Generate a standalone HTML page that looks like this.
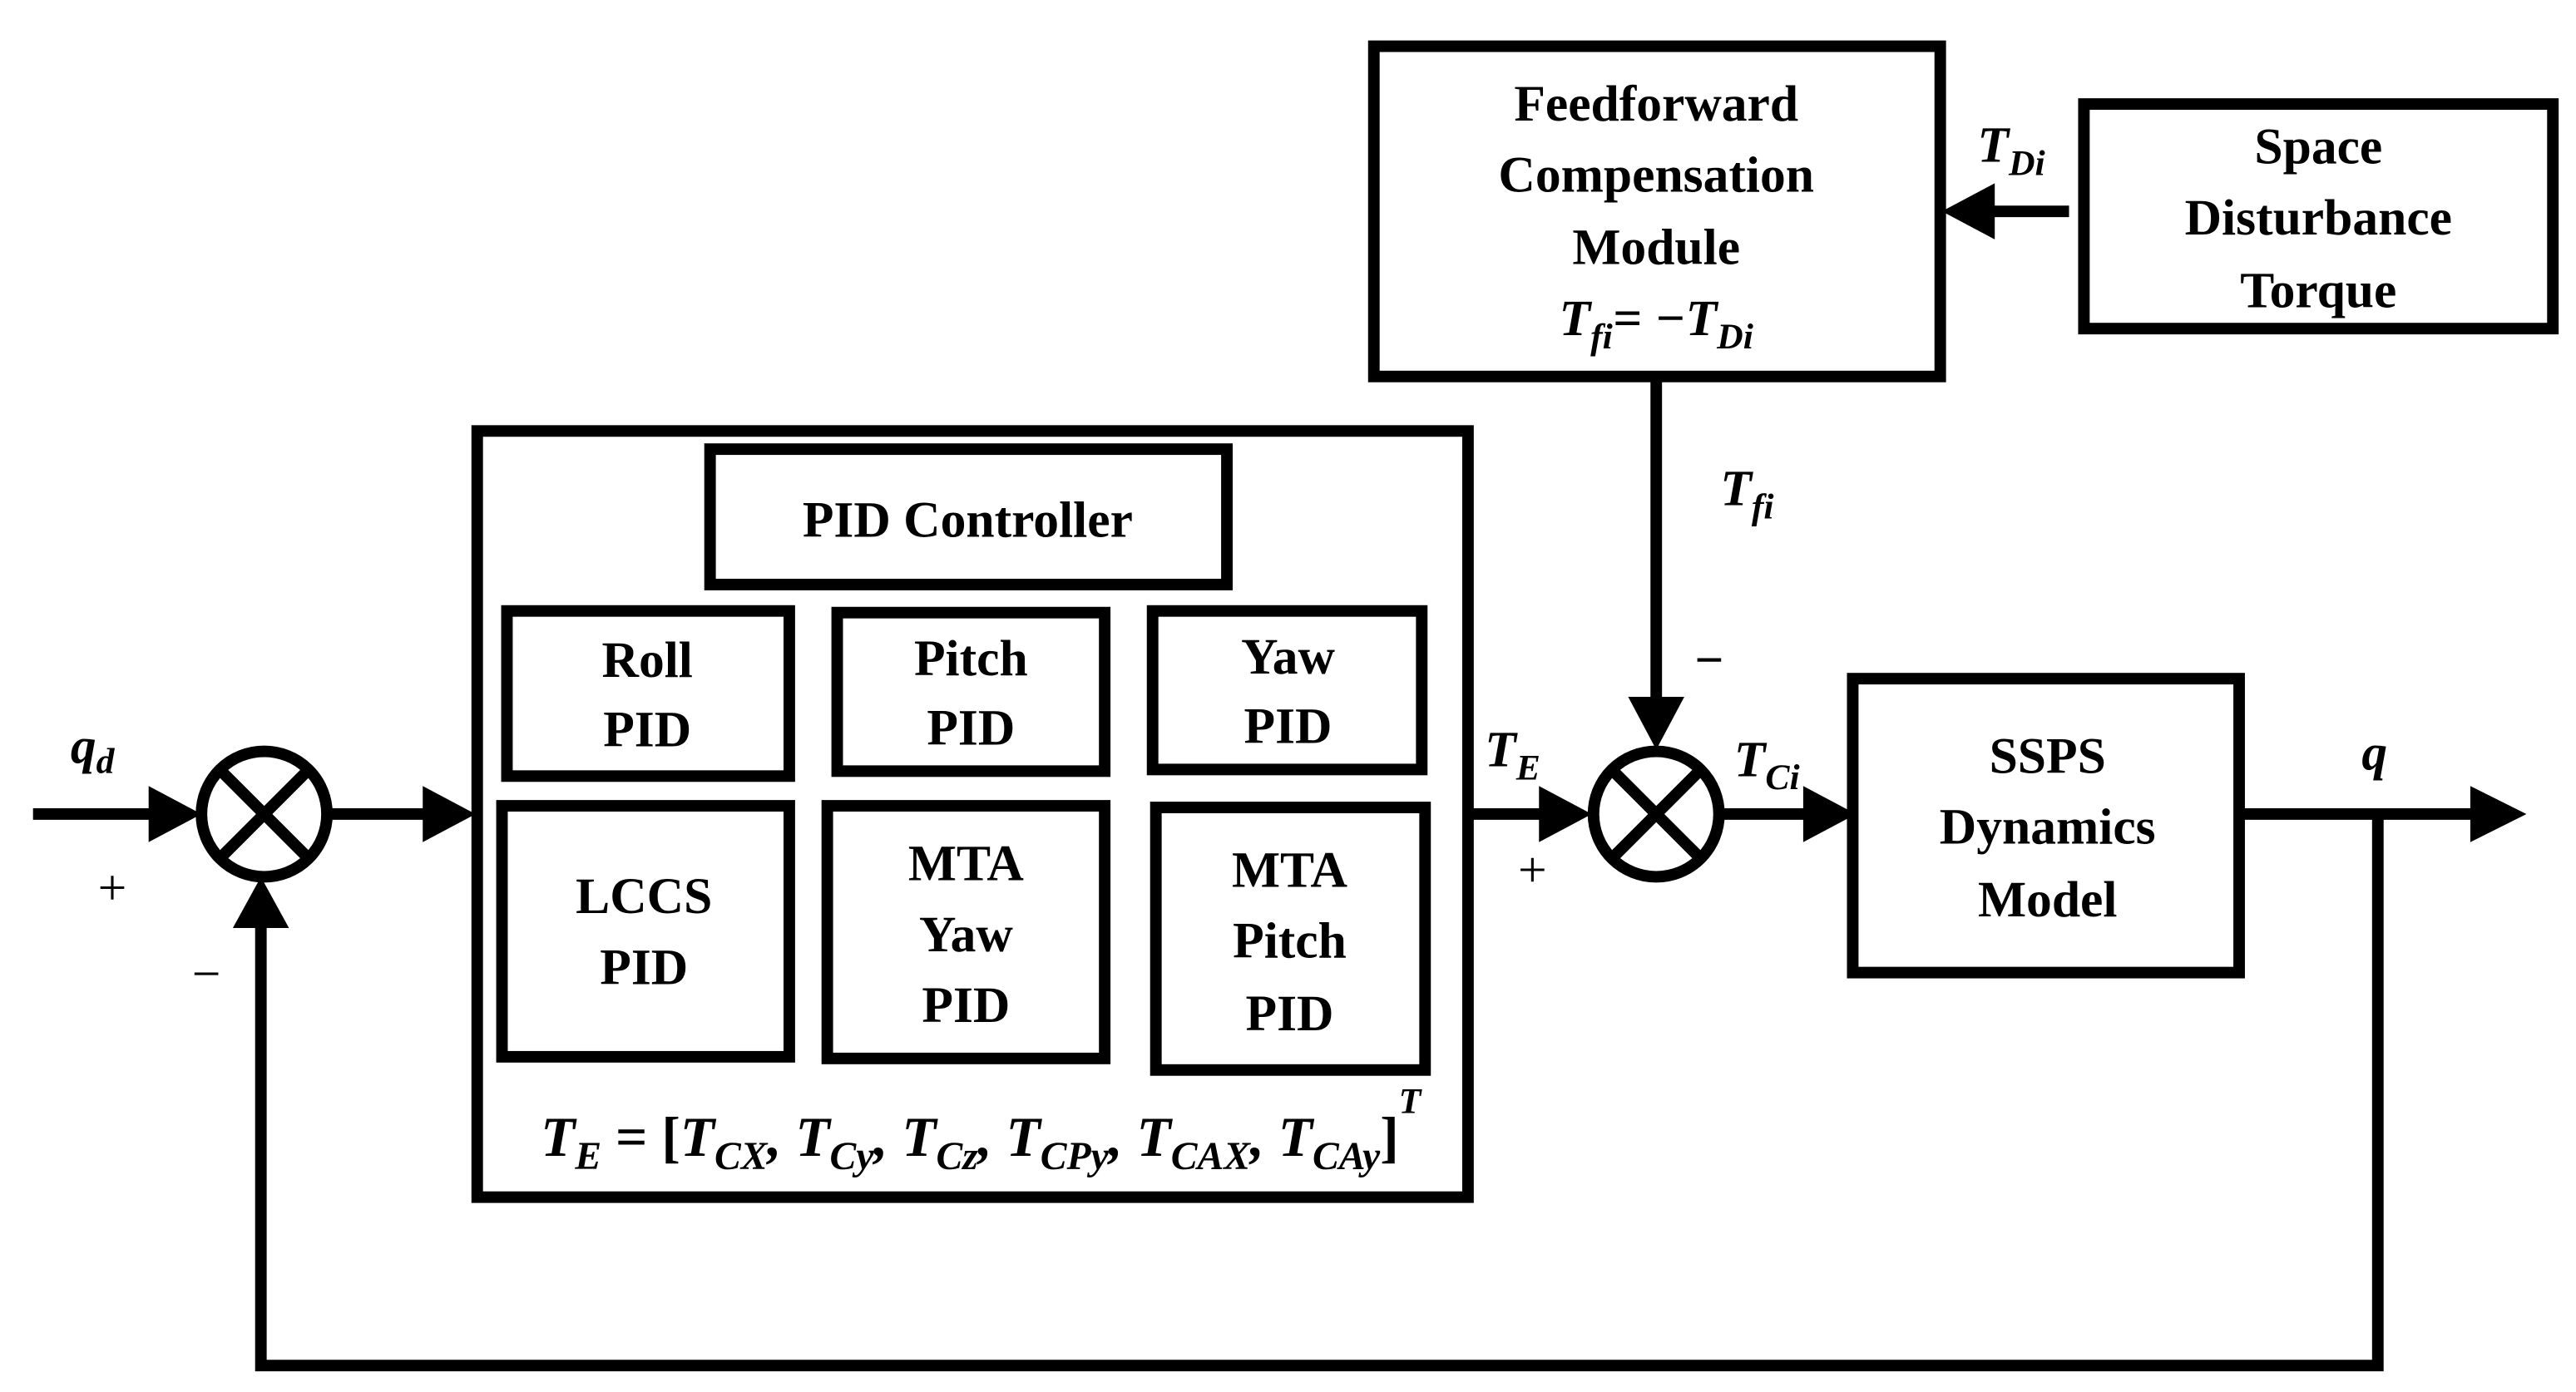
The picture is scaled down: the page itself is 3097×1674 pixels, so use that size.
<!DOCTYPE html>
<html><head><meta charset="utf-8"><style>
html,body{margin:0;padding:0;background:#fff;}
svg{display:block}
text{font-family:"Liberation Serif",serif;font-weight:bold;fill:#000}
.t{font-size:31px;text-anchor:middle}
.m{font-style:italic}
</style></head><body>
<svg width="3097" height="1674" viewBox="0 0 1560 843" preserveAspectRatio="none" xmlns="http://www.w3.org/2000/svg">
<g fill="none" stroke="#000" stroke-width="7">
<rect x="832" y="28" width="343" height="200"/>
<rect x="1262" y="63" width="284" height="136"/>
<rect x="289" y="261" width="600" height="464"/>
<rect x="430" y="272" width="313" height="82"/>
<rect x="307" y="370" width="171" height="100"/>
<rect x="507" y="371" width="162" height="96"/>
<rect x="698" y="370" width="163" height="96"/>
<rect x="304" y="488" width="174" height="152"/>
<rect x="501" y="488" width="168" height="153"/>
<rect x="700" y="489" width="163" height="159"/>
<rect x="1122" y="411" width="234" height="178"/>
<circle cx="160" cy="493" r="38"/>
<line x1="133" y1="466" x2="187" y2="520"/><line x1="187" y1="466" x2="133" y2="520"/>
<circle cx="1003" cy="493" r="38"/>
<line x1="976" y1="466" x2="1030" y2="520"/><line x1="1030" y1="466" x2="976" y2="520"/>
<polyline points="20,493 92,493"/>
<polyline points="200,493 258,493"/>
<polyline points="890,493 935,493"/>
<polyline points="1042,493 1094,493"/>
<polyline points="1356,493 1498,493"/>
<polyline points="1440,493 1440,827 158,827 158,560"/>
<polyline points="1003,228 1003,425"/>
<polyline points="1253,128 1205,128"/>
</g>
<g fill="#000">
<polygon points="90,476 122,493 90,510"/>
<polygon points="256,476 288,493 256,510"/>
<polygon points="932,476 964,493 932,510"/>
<polygon points="1092,476 1124,493 1092,510"/>
<polygon points="1496,476 1530,493 1496,510"/>
<polygon points="141,562 158,531 175,562"/>
<polygon points="986,422 1003,454 1020,422"/>
<polygon points="1208,111 1176,128 1208,145"/>
</g>
<text class="t" x="1003" y="73">Feedforward</text>
<text class="t" x="1003" y="116">Compensation</text>
<text class="t" x="1003" y="160">Module</text>
<text class="t m" x="1003" y="203">T<tspan font-size="22" dy="8">fi</tspan><tspan dy="-8">= −T</tspan><tspan font-size="22" dy="8">Di</tspan></text>
<text class="t" x="1404" y="99">Space</text>
<text class="t" x="1404" y="142">Disturbance</text>
<text class="t" x="1404" y="186">Torque</text>
<text class="t m" x="1218" y="98">T<tspan font-size="22" dy="8">Di</tspan></text>
<text class="t m" x="1058" y="306">T<tspan font-size="22" dy="8">fi</tspan></text>
<text class="t" x="1035" y="410">−</text>
<text class="t" x="586" y="325">PID Controller</text>
<text class="t" x="392" y="410">Roll</text><text class="t" x="392" y="452">PID</text>
<text class="t" x="588" y="409">Pitch</text><text class="t" x="588" y="451">PID</text>
<text class="t" x="780" y="408">Yaw</text><text class="t" x="780" y="450">PID</text>
<text class="t" x="390" y="553">LCCS</text><text class="t" x="390" y="596">PID</text>
<text class="t" x="585" y="533">MTA</text><text class="t" x="585" y="576">Yaw</text><text class="t" x="585" y="619">PID</text>
<text class="t" x="781" y="537">MTA</text><text class="t" x="781" y="580">Pitch</text><text class="t" x="781" y="624">PID</text>
<text class="t m" x="594" y="700" style="font-size:34px">T<tspan font-size="24" dy="8">E</tspan><tspan dy="-8" font-style="normal"> = [</tspan>T<tspan font-size="24" dy="8">CX</tspan><tspan dy="-8">, T</tspan><tspan font-size="24" dy="8">Cy</tspan><tspan dy="-8">, T</tspan><tspan font-size="24" dy="8">Cz</tspan><tspan dy="-8">, T</tspan><tspan font-size="24" dy="8">CPy</tspan><tspan dy="-8">, T</tspan><tspan font-size="24" dy="8">CAX</tspan><tspan dy="-8">, T</tspan><tspan font-size="24" dy="8">CAy</tspan><tspan dy="-8" font-style="normal">]</tspan><tspan font-size="22" dy="-26">T</tspan></text>
<text class="t" x="1240" y="468">SSPS</text>
<text class="t" x="1240" y="511">Dynamics</text>
<text class="t" x="1240" y="555">Model</text>
<text class="t m" x="56" y="462">q<tspan font-size="22" dy="6">d</tspan></text>
<text class="t" x="68" y="548" style="font-weight:normal">+</text>
<text class="t" x="125" y="600" style="font-weight:normal">−</text>
<text class="t m" x="916" y="464">T<tspan font-size="22" dy="8">E</tspan></text>
<text class="t" x="928" y="537" style="font-weight:normal">+</text>
<text class="t m" x="1070" y="470">T<tspan font-size="22" dy="8">Ci</tspan></text>
<text class="t m" x="1438" y="466">q</text>
</svg>
</body></html>
